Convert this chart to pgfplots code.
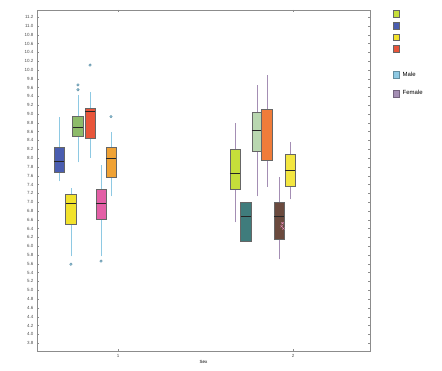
\documentclass[border=0pt]{standalone}
\usepackage{pgfplots}
\pgfplotsset{compat=1.18}
\usepackage{fontspec}
\setmainfont{Liberation Sans}
\definecolor{cblue}{HTML}{4A5DB0}
\definecolor{cyel}{HTML}{F2E22C}
\definecolor{cgreen}{HTML}{8DBB6A}
\definecolor{cred}{HTML}{E8553A}
\definecolor{cpink}{HTML}{E35FA6}
\definecolor{corange}{HTML}{F0A234}
\definecolor{clime}{HTML}{C6DE3A}
\definecolor{cteal}{HTML}{3F7C7C}
\definecolor{clgreen}{HTML}{B9D7B0}
\definecolor{corange2}{HTML}{F07C3A}
\definecolor{cbrown}{HTML}{6B4A3E}
\definecolor{cyel2}{HTML}{F3E640}
\definecolor{wmale}{HTML}{8EC9E3}
\definecolor{wfem}{HTML}{A48EB4}
% #1 position, #2 lower whisker, #3 lower quartile, #4 median, #5 upper quartile, #6 upper whisker, #7 fill, #8 whisker colour
\newcommand{\bx}[8]{%
  \addplot[forget plot, draw=#8, line width=0.8pt] coordinates {(#1,#2) (#1,#6)};
  \addplot[forget plot, fill=#7, draw=black!60, line width=0.4pt] coordinates {({#1-0.03},#3) ({#1+0.03},#3) ({#1+0.03},#5) ({#1-0.03},#5)} -- cycle;
  \addplot[forget plot, draw=black!85, line width=1.1pt] coordinates {({#1-0.03},#4) ({#1+0.03},#4)};
}
\pgfplotsset{sq/.style={legend image code/.code={\draw[##1] (0pt,-3.2pt) rectangle (6.8pt,3.6pt);}}}
\begin{document}
\begin{tikzpicture}
\begin{axis}[
  scale only axis, width=333pt, height=341pt,
  xmin=0.537, xmax=2.44, ymin=3.62, ymax=11.36,
  xtick={1,2}, xticklabels={1,2},
  ytick distance=0.2,
  yticklabel style={/pgf/number format/.cd, fixed, fixed zerofill, precision=1},
  /pgf/number format/assume math mode=true,
  tick label style={font=\fontsize{4.5}{5}\selectfont, text=black!70},
  xlabel={Sex}, xlabel style={font=\fontsize{4.5}{5}\selectfont, yshift=4pt},
  axis line style={black!45},
  tick style={black!45},
  major tick length=2pt,
  legend style={at={(1.067,1.0)}, anchor=north west, draw=none, fill=none,
    font=\fontsize{6}{7}\selectfont, row sep=4.5pt, inner sep=0pt,
    nodes={inner sep=0.5pt}},
  legend cell align=left,
  clip=false,
]
% Group 1 (male)
\bx{0.663}{7.47}{7.67}{7.92}{8.24}{8.94}{cblue}{wmale}
\bx{0.731}{5.77}{6.49}{6.97}{7.17}{7.33}{cyel}{wmale}
\bx{0.771}{7.90}{8.49}{8.69}{8.94}{9.44}{cgreen}{wmale}
\bx{0.840}{8.01}{8.46}{9.05}{9.12}{9.50}{cred}{wmale}
\bx{0.903}{5.77}{6.61}{6.97}{7.29}{7.85}{cpink}{wmale}
\bx{0.960}{7.13}{7.56}{7.99}{8.24}{8.58}{corange}{wmale}
\addplot[forget plot, only marks, mark=*, mark size=1.3pt, mark options={fill=wmale, draw=wmale!70!black}]
  coordinates {(0.731,5.59) (0.771,9.66) (0.771,9.55) (0.840,10.11) (0.903,5.66) (0.960,8.94)};
% Group 2 (female)
\bx{1.669}{6.54}{7.29}{7.65}{8.19}{8.80}{clime}{wfem}
\bx{1.731}{6.11}{6.11}{6.68}{6.99}{6.99}{cteal}{wfem}
\bx{1.794}{7.13}{8.15}{8.62}{9.03}{9.66}{clgreen}{wfem}
\addplot[forget plot, draw=wfem, line width=0.8pt] coordinates {(1.851,7.35) (1.851,9.89)};
\addplot[forget plot, fill=corange2, draw=black!60, line width=0.4pt] coordinates {(1.821,7.96) (1.881,7.96) (1.881,9.10) (1.821,9.10)} -- cycle;
\bx{1.920}{5.70}{6.15}{6.68}{6.99}{7.58}{cbrown}{wfem}
\bx{1.983}{7.06}{7.35}{7.72}{8.08}{8.37}{cyel2}{wfem}
\addplot[forget plot, only marks, mark=x, mark size=1.5pt, mark options={draw=cpink!70}]
  coordinates {(1.935,6.45) (1.945,6.40) (1.940,6.52)};
% Legend
\addlegendimage{sq, fill=clime, draw=black!60}\addlegendentry{}
\addlegendimage{sq, fill=cblue, draw=black!60}\addlegendentry{}
\addlegendimage{sq, fill=cyel, draw=black!60}\addlegendentry{}
\addlegendimage{sq, fill=cred, draw=black!60}\addlegendentry{}
\addlegendimage{empty legend}\addlegendentry{\rule{0pt}{7pt}}
\addlegendimage{sq, fill=wmale, draw=wmale!70!black}\addlegendentry{\hspace{2.5pt}Male}
\addlegendimage{empty legend}\addlegendentry{}
\addlegendimage{sq, fill=wfem, draw=wfem!70!black}\addlegendentry{\hspace{2.5pt}Female}
\coordinate (sw) at (rel axis cs:0,0);
\coordinate (ne) at (rel axis cs:1,1);
\end{axis}
\pgfresetboundingbox
\path ([shift={(-37pt,-20pt)}]sw) rectangle ([shift={(72pt,10pt)}]ne);
\end{tikzpicture}
\end{document}
